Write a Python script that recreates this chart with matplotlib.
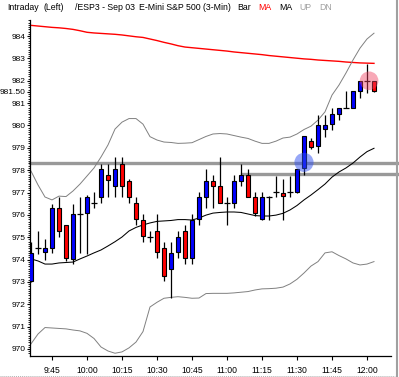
import matplotlib
matplotlib.use('Agg')
import matplotlib.pyplot as plt
from matplotlib.lines import Line2D
import numpy as np
import pandas as pd

plt.rcParams['font.family'] = ['Liberation Sans', 'DejaVu Sans']

# 3-minute bars, 9:36 .. 12:03
bar_times = pd.date_range('2003-09-03 09:36', periods=50, freq='3min')

opens = [973.06, 974.50, 974.33, 974.50, 976.30, 975.53, 974.03, 976.04, 976.07, 976.55,
         976.82, 977.78, 977.29, 978.27, 977.51, 976.55, 975.77, 975.03, 975.28, 974.50,
         973.56, 974.33, 975.28, 974.06, 975.80, 976.82, 977.51, 977.29, 976.55, 976.55,
         977.53, 977.78, 976.79, 975.80, 976.80, 977.04, 977.00, 977.04, 977.04, 978.08,
         979.30, 979.08, 979.83, 980.05, 980.51, 980.77, 980.77, 981.54, 982.00, 982.00]
highs = [974.80, 975.30, 974.90, 976.50, 976.80, 975.55, 976.50, 976.79, 976.90, 977.04,
         978.27, 978.27, 978.58, 978.58, 977.60, 976.79, 976.04, 975.30, 976.04, 974.77,
         974.77, 975.30, 975.55, 976.04, 977.04, 978.04, 977.78, 978.58, 976.79, 977.78,
         978.27, 978.04, 977.04, 977.04, 976.85, 977.74, 977.59, 977.74, 978.04, 979.53,
         979.45, 980.47, 980.47, 980.77, 980.77, 981.54, 981.54, 982.00, 982.75, 982.00]
lows = [973.00, 974.25, 974.00, 974.28, 975.03, 973.95, 973.80, 974.28, 974.25, 976.30,
        976.52, 976.79, 976.80, 976.80, 976.55, 975.55, 974.77, 974.77, 974.06, 973.04,
        972.30, 974.06, 973.80, 973.80, 975.55, 976.30, 976.30, 976.52, 975.55, 976.30,
        977.29, 976.79, 975.97, 975.75, 975.77, 976.81, 975.77, 976.81, 976.97, 977.78,
        978.95, 978.75, 979.50, 979.80, 980.24, 980.77, 980.77, 981.21, 981.44, 981.50]
closes = [974.28, 974.50, 974.50, 976.30, 975.30, 974.05, 976.04, 976.04, 976.79, 976.55,
          978.04, 977.56, 978.04, 977.29, 976.82, 975.80, 975.07, 975.03, 974.33, 973.28,
          974.28, 975.03, 974.06, 975.77, 976.79, 977.51, 977.30, 976.55, 976.55, 977.51,
          977.78, 976.82, 976.07, 976.79, 976.80, 977.04, 976.84, 977.04, 978.04, 979.53,
          979.05, 980.02, 980.02, 980.50, 980.77, 980.77, 981.54, 982.00, 982.00, 981.55]

ma_red = [984.48, 984.45, 984.42, 984.39, 984.37, 984.34, 984.30, 984.24, 984.17, 984.14,
          984.12, 984.10, 984.08, 984.05, 984.01, 983.97, 983.94, 983.87, 983.80, 983.72,
          983.65, 983.57, 983.51, 983.48, 983.45, 983.42, 983.39, 983.36, 983.33, 983.29,
          983.26, 983.23, 983.20, 983.17, 983.13, 983.10, 983.07, 983.04, 983.01, 982.98,
          982.96, 982.93, 982.91, 982.89, 982.87, 982.84, 982.82, 982.80, 982.79, 982.78]
ma_black = [974.03, 973.94, 973.80, 973.80, 973.85, 973.87, 973.89, 974.03, 974.16, 974.30,
            974.43, 974.61, 974.80, 975.01, 975.28, 975.44, 975.55, 975.64, 975.71, 975.73,
            975.75, 975.79, 975.79, 975.77, 975.86, 975.99, 976.08, 976.11, 976.13, 976.13,
            976.11, 976.04, 975.97, 975.95, 975.95, 975.99, 976.07, 976.22, 976.42, 976.67,
            976.89, 977.13, 977.38, 977.69, 977.92, 978.10, 978.32, 978.59, 978.83, 978.98]
band_up = [977.96, 977.34, 976.80, 976.67, 976.84, 976.82, 977.07, 977.38, 977.74, 978.10,
           978.59, 979.13, 979.84, 980.15, 980.31, 980.31, 980.06, 979.50, 979.35, 979.26,
           979.24, 979.20, 979.21, 979.23, 979.37, 979.51, 979.62, 979.64, 979.62, 979.55,
           979.48, 979.42, 979.30, 979.20, 979.20, 979.30, 979.44, 979.48, 979.62, 979.82,
           979.97, 980.24, 980.61, 981.36, 981.81, 982.35, 982.93, 983.46, 983.87, 984.13]
band_dn = [970.23, 970.67, 970.96, 970.94, 970.92, 970.90, 970.85, 970.81, 970.70, 970.47,
           970.09, 969.91, 969.81, 969.87, 970.05, 970.31, 970.78, 971.88, 972.09, 972.27,
           972.31, 972.34, 972.31, 972.27, 972.28, 972.48, 972.49, 972.49, 972.49, 972.51,
           972.54, 972.57, 972.64, 972.69, 972.70, 972.72, 972.77, 972.91, 973.12, 973.40,
           973.71, 973.91, 974.30, 974.35, 974.18, 974.03, 973.85, 973.76, 973.80, 973.91]

# horizontal levels (price, first bar)
level_prices = [978.30, 977.82]
level_start = [-0.2, 30.1]

# highlighted points (bar, price)
blue_mark = (39, 978.35)
pink_mark = (48.3, 982.0)

last_price = 981.50
time_labels = ['9:45', '10:00', '10:15', '10:30', '10:45', '11:00', '11:15', '11:30', '11:45', '12:00']

W, H = 399, 377
fig = plt.figure(figsize=(W / 100, H / 100), dpi=100)
ax = fig.add_axes([30 / W, 1 - 355.7 / H, 361 / W, 335.7 / H])

x = np.arange(len(opens))
o = np.array(opens); c = np.array(closes)
hi = np.array(highs); lo = np.array(lows)
x0, x1 = -0.143, 51.43

# levels
for p, s in zip(level_prices, level_start):
    xmin = (s - x0) / (x1 - x0)
    ax.axhline(p, xmin=max(xmin, 0), xmax=1.018, color='#999999', lw=2.4,
               zorder=1, clip_on=False)

# indicator lines
ax.plot(x, ma_red, color='red', lw=1.0, zorder=2)
ax.plot(x, ma_black, color='black', lw=0.75, zorder=2)
ax.plot(x, band_up, color='#808080', lw=0.7, zorder=2)
ax.plot(x, band_dn, color='#808080', lw=0.7, zorder=2)

# candles
ax.vlines(x, lo, hi, color='black', lw=0.9, zorder=3)
up = c > o
down = c < o
doji = c == o
bw = 0.68
ax.bar(x[up], (c - o)[up], bottom=o[up], width=bw, color='#0000ff',
       edgecolor='black', linewidth=0.8, zorder=4)
ax.bar(x[down], (o - c)[down], bottom=c[down], width=bw, color='#ff0000',
       edgecolor='black', linewidth=0.8, zorder=4)
ax.hlines(c[doji], x[doji] - 0.42, x[doji] + 0.42, color='black', lw=0.9, zorder=4)

# highlight marks
ax.scatter([blue_mark[0]], [blue_mark[1]], s=190, color='#3050f0', alpha=0.5,
           edgecolors='none', zorder=5)
ax.scatter([pink_mark[0]], [pink_mark[1]], s=180, color='#f04060', alpha=0.45,
           edgecolors='none', zorder=5)

ax.set_xlim(x0, x1)
ax.set_ylim(969.70, 984.72)

# x ticks at quarter hours
tick_pos = [i for i, t in enumerate(bar_times) if t.strftime('%H:%M').lstrip('0') in time_labels]
ax.set_xticks(tick_pos)
ax.set_xticklabels(time_labels)

yt = list(range(970, 985)) + [last_price]
ax.set_yticks(yt)
ax.set_yticklabels([str(v) for v in range(970, 985)] + ['%.2f' % last_price])
ax.set_yticks(np.arange(969.8, 984.75, 0.1), minor=True)

ax.tick_params(axis='y', which='major', length=2.5, width=0.8, pad=0.8, labelsize=6)
ax.tick_params(axis='y', which='minor', length=1.2, width=0.6)
ax.tick_params(axis='x', which='major', length=3, width=0.8, pad=4.5, labelsize=6.2)

for s in ['top', 'right']:
    ax.spines[s].set_visible(False)
for s in ['left', 'bottom']:
    ax.spines[s].set_linewidth(0.9)

# header text
ty = 1 - 7 / H
hdr = [(7, 'Intraday', 'black'), (43, '(Left)', 'black'), (75, '/ESP3 - Sep 03', 'black'),
       (139, 'E-Mini S&P 500 (3-Min)', 'black'), (237, 'Bar', 'black'), (258, 'MA', 'red'),
       (279, 'MA', 'black'), (299, 'UP', '#a0a0a0'), (319, 'DN', '#a0a0a0')]
for px, txt, col in hdr:
    fig.text(px / W, ty, txt, color=col, fontsize=6.3, ha='left', va='center')

# window borders
fig.add_artist(Line2D([396.5 / W] * 2, [0, 1], transform=fig.transFigure,
                      color='#a0a0a0', lw=1.5))
fig.add_artist(Line2D([0, 395 / W], [1 - 376.3 / H] * 2, transform=fig.transFigure,
                      color='#b0b0b0', lw=0.7, ls=(0, (1, 1))))

fig.savefig('out.png', dpi=100)
